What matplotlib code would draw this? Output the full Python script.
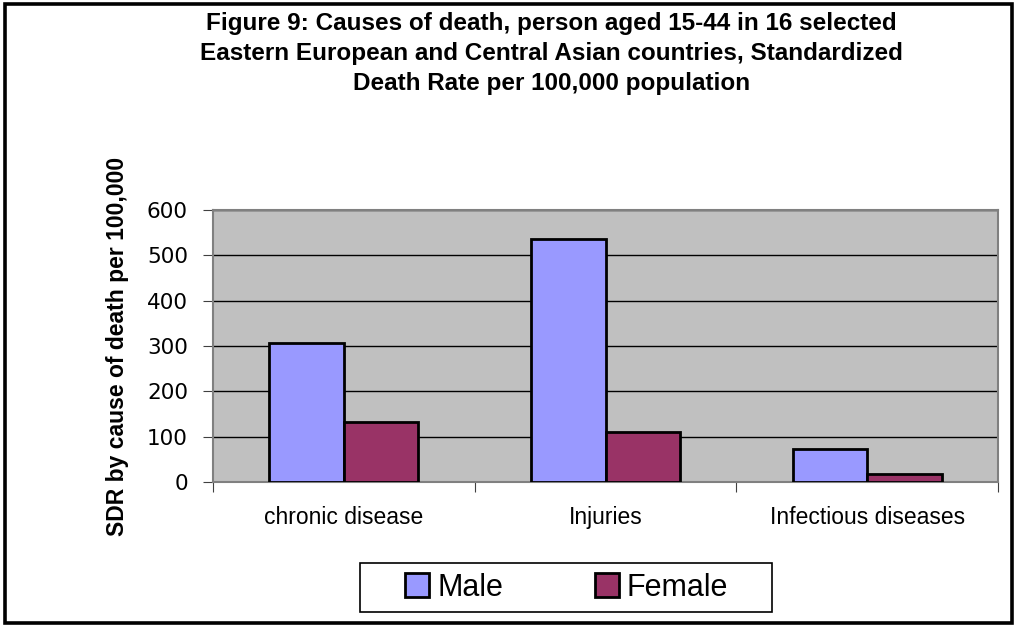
#!/usr/bin/env python3
"""Figure 9: causes of death, persons aged 15-44, clustered bars."""
import numpy as np
import matplotlib
matplotlib.use("Agg")
import matplotlib.pyplot as plt
from matplotlib.patches import Rectangle

categories = ["chronic disease", "Injuries", "Infectious diseases"]
male = [307, 536, 72]
female = [133, 111, 18]
series_names = ["Male", "Female"]
yticks = [0, 100, 200, 300, 400, 500, 600]

title = ("Figure 9: Causes of death, person aged 15-44 in 16 selected\n"
         "Eastern European and Central Asian countries, Standardized\n"
         "Death Rate per 100,000 population")
ylabel = "SDR by cause of death per 100,000"

plt.rcParams["font.family"] = ["Liberation Sans", "DejaVu Sans"]

fig = plt.figure(figsize=(10.18, 6.26), dpi=100)
ax = fig.add_axes([0.2092, 0.230, 0.7712, 0.4345])
ax.set_facecolor("#C0C0C0")

x = np.arange(len(categories))
w = 0.285
ax.bar(x - w / 2, male, w, color="#9999FF", edgecolor="black", linewidth=2,
       label=series_names[0], zorder=3)
ax.bar(x + w / 2, female, w, color="#993366", edgecolor="black", linewidth=2,
       label=series_names[1], zorder=3)

ax.set_xlim(-0.5, len(categories) - 0.5)
ax.set_ylim(0, 600)
ax.set_yticks(yticks)
ax.set_yticklabels([str(v) for v in yticks], family="DejaVu Sans", fontsize=15.5)
ax.yaxis.grid(True, color="black", linewidth=1, zorder=1)
ax.set_axisbelow(True)

# ticks sit on the category boundaries, labels in the middle
ax.set_xticks(np.arange(len(categories) + 1) - 0.5)
ax.set_xticklabels([])
ax.set_xticks(x, minor=True)
ax.set_xticklabels(categories, minor=True)
ax.tick_params(axis="x", which="minor", length=0, pad=17, labelsize=16.5)
ax.tick_params(axis="x", which="major", length=7, color="#404040")
ax.tick_params(axis="y", length=7, pad=11, color="#404040")

for s in ax.spines.values():
    s.set_color("#808080")
    s.set_linewidth(1.5)

ax.set_ylabel(ylabel, fontsize=16.5, fontweight="bold", labelpad=13)
fig.text(0.542, 0.981, title, ha="center", va="top", fontsize=17.5,
         fontweight="bold", linespacing=1.38)

leg = fig.legend(loc="center", bbox_to_anchor=(0.5565, 0.0615), ncol=2,
                 fontsize=22, frameon=False,
                 handlelength=0.8, handleheight=0.8, handletextpad=0.25,
                 columnspacing=3.0, borderpad=0.2)
for h in leg.legend_handles:
    h.set_linewidth(2)

# legend box drawn separately: wider padding left/right than top/bottom
fig.patches.append(Rectangle((360 / 1018, 1 - 612 / 626), 412 / 1018, 49 / 626,
                             transform=fig.transFigure, fill=False,
                             edgecolor="black", linewidth=1.2))
fig.patches.append(Rectangle((5 / 1018, 3 / 626), 1007 / 1018, 619.5 / 626,
                             transform=fig.transFigure, fill=False,
                             edgecolor="black", linewidth=2.6))

fig.savefig("out.png", dpi=100)
